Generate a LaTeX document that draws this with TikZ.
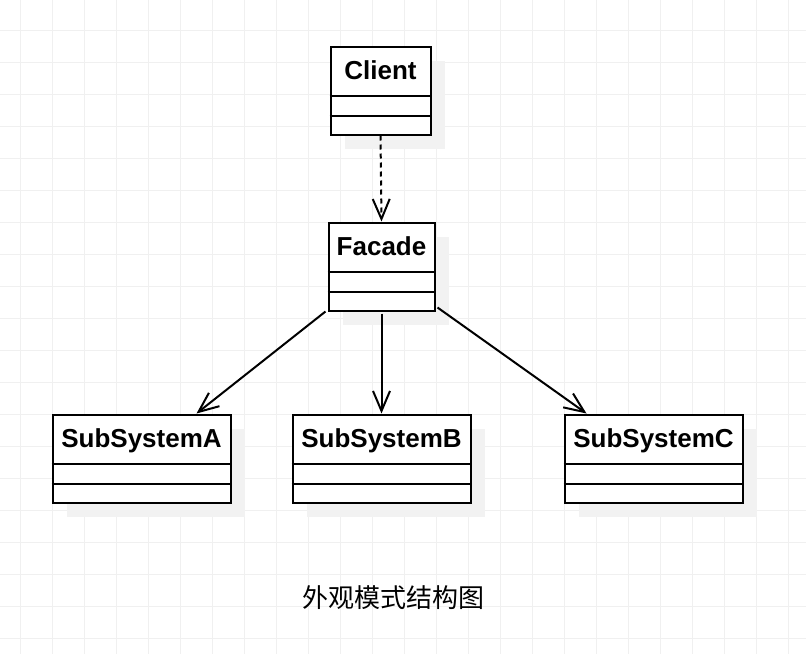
\documentclass[tikz,border=0pt]{standalone}
\usepackage{fontspec}
\setmainfont{Liberation Sans}
\newfontfamily\cjk{Noto Sans CJK SC}
\usetikzlibrary{arrows.meta,calc,shadows}
\definecolor{gridc}{RGB}{240,240,240}
\definecolor{shadowc}{RGB}{242,242,242}
\tikzset{
  umlbox/.style={draw=black, line width=2pt, fill=white, rectangle, anchor=north west,
    minimum height=88pt, inner sep=0pt,
    drop shadow={shadow xshift=14pt, shadow yshift=-14pt, fill=shadowc, opacity=1}},
  umlname/.style={font=\bfseries\fontsize{26}{30}\selectfont, text height=18.6pt, text depth=0pt, inner sep=0pt},
  divider/.style={line width=2pt},
  arr/.style={line width=2pt, -{Straight Barb[length=20pt, width=17pt, line width=2pt]}},
  deparr/.style={arr, dash pattern=on 5pt off 4pt},
}
\begin{document}
\begin{tikzpicture}[x=1pt,y=-1pt]
\useasboundingbox (0,0) rectangle (806,654);
\fill[white] (0,0) rectangle (806,654);
\foreach \i in {0,...,24} { \draw[gridc, line width=1pt] ({20+32*\i},0) -- ({20+32*\i},654); }
\foreach \j in {0,...,19} { \draw[gridc, line width=1pt] (0,{30+32*\j}) -- (806,{30+32*\j}); }

\node[umlbox, minimum width=100pt] (client) at (329.5,45.5) {};
\node[umlbox, minimum width=106pt] (facade) at (327.5,221.5) {};
\node[umlbox, minimum width=178pt] (subA) at (51.5,413.5) {};
\node[umlbox, minimum width=178pt] (subB) at (291.5,413.5) {};
\node[umlbox, minimum width=178pt] (subC) at (563.5,413.5) {};

\foreach \b/\t in {client/Client, facade/Facade, subA/SubSystemA, subB/SubSystemB, subC/SubSystemC} {
  \node[umlname] (\b-name) at ($(\b.north)+(0,25)$) {\t};
  \draw[divider] ($(\b.north west)+(0,50)$) -- ($(\b.north east)+(0,50)$);
  \draw[divider] ($(\b.north west)+(0,70)$) -- ($(\b.north east)+(0,70)$);
}

\draw[deparr] (client.south) -- (facade.north);
\draw[arr] ($(facade.south west)+(-2,0)$) -- ($(subA.north west)+(145,0)$);
\draw[arr] ($(facade.south)+(0,2)$) -- (subB.north);
\draw[arr] ($(facade.south east)+(2,-4)$) -- ($(subC.north west)+(23,0)$);

\node[anchor=base, inner sep=0pt, font=\cjk\fontsize{26}{30}\selectfont] (caption) at (393,607.5) {外观模式结构图};
\end{tikzpicture}
\end{document}
